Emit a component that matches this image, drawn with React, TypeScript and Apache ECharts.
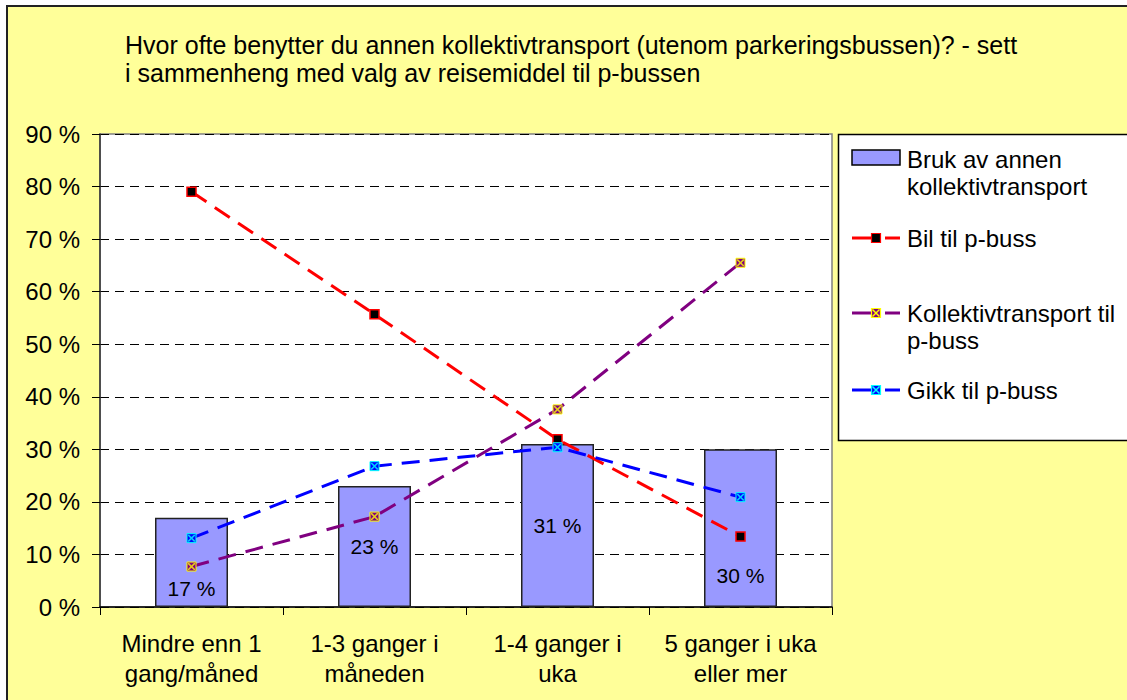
import React, { useEffect, useRef } from "react";
import * as echarts from "echarts";

const categories = [
  "Mindre enn 1\ngang/måned",
  "1-3 ganger i\nmåneden",
  "1-4 ganger i\nuka",
  "5 ganger i uka\neller mer",
];
const brukAvAnnenKollektiv = [17, 23, 31, 30];
const bilTilPbuss = [79, 55.7, 31.9, 13.4];
const kollektivTilPbuss = [7.7, 17.2, 37.6, 65.5];
const gikkTilPbuss = [13.1, 26.8, 30.4, 20.9];
const yMin = 0;
const yMax = 90;
const yStep = 10;
const seriesNames = [
  "Bruk av annen kollektivtransport",
  "Bil til p-buss",
  "Kollektivtransport til p-buss",
  "Gikk til p-buss",
];
const legendLabels = [
  "Bruk av annen\nkollektivtransport",
  "Bil til p-buss",
  "Kollektivtransport til\np-buss",
  "Gikk til p-buss",
];
const titleText =
  "Hvor ofte benytter du annen kollektivtransport (utenom parkeringsbussen)? - sett\ni sammenheng med valg av reisemiddel til p-bussen";

const FONT = "'Liberation Sans', Arial, sans-serif";
const BAR_COLOR = "#9999FF";
const RED = "#FF0000";
const PURPLE = "#800080";
const BLUE = "#0000FF";
const YELLOW = "#FFFF00";
const CYAN = "#00FFFF";
const X_PATH =
  "path://M0,0L1.6,0L5,3.4L8.4,0L10,0L10,1.6L6.6,5L10,8.4L10,10L8.4,10L5,6.6L1.6,10L0,10L0,8.4L3.4,5L0,1.6Z";
const barLabelPlacement = [
  { position: "insideBottom", distance: 8 },
  { position: "inside", distance: 0 },
  { position: "inside", distance: 0 },
  { position: "insideBottom", distance: 21 },
];
const DASH = [18, 10];
const LABEL_SIZE = 24;

function legendMarker(cx: number, cy: number, fill: string, stroke: string, cross: boolean) {
  const els: any[] = [
    {
      type: "rect",
      shape: { x: cx - 4.5, y: cy - 4.5, width: 9, height: 9 },
      style: { fill, stroke, lineWidth: 1.2 },
    },
  ];
  if (cross) {
    els.push(
      { type: "line", shape: { x1: cx - 3.5, y1: cy - 3.5, x2: cx + 3.5, y2: cy + 3.5 }, style: { stroke, lineWidth: 1.5 } },
      { type: "line", shape: { x1: cx + 3.5, y1: cy - 3.5, x2: cx - 3.5, y2: cy + 3.5 }, style: { stroke, lineWidth: 1.5 } }
    );
  }
  return els;
}

function legendLine(y: number, color: string) {
  return [
    { type: "line", shape: { x1: 852, y1: y, x2: 880, y2: y }, style: { stroke: color, lineWidth: 3 } },
    { type: "line", shape: { x1: 885, y1: y, x2: 900, y2: y }, style: { stroke: color, lineWidth: 3 } },
  ];
}

function legendText(x: number, yCenterFirst: number, text: string) {
  return {
    type: "text",
    x,
    y: yCenterFirst - 13.5,
    style: {
      text,
      fill: "#000",
      font: `${LABEL_SIZE}px ${FONT}`,
      lineHeight: 27,
      verticalAlign: "top",
      align: "left",
    },
  };
}

export default function App() {
  const ref = useRef<HTMLDivElement>(null);

  useEffect(() => {
    if (!ref.current) return;
    const chart = echarts.init(ref.current, undefined, { renderer: "svg" });

    const legendGraphics: any[] = [
      {
        type: "rect",
        shape: { x: 838.5, y: 134.5, width: 320, height: 306 },
        style: { fill: "#FFFFFF", stroke: "#000", lineWidth: 1.5 },
      },
      {
        type: "rect",
        shape: { x: 852, y: 150, width: 48, height: 15 },
        style: { fill: BAR_COLOR, stroke: "#000", lineWidth: 1.5 },
      },
      legendText(907, 159, legendLabels[0]),
      ...legendLine(238, RED),
      ...legendMarker(876, 238, "#000", RED, false),
      legendText(907, 238, legendLabels[1]),
      ...legendLine(313, PURPLE),
      ...legendMarker(876, 313, PURPLE, YELLOW, true),
      legendText(907, 313, legendLabels[2]),
      ...legendLine(390, BLUE),
      ...legendMarker(876, 390, BLUE, CYAN, true),
      legendText(907, 390, legendLabels[3]),
    ];

    const option: any = {
      animation: false,
      backgroundColor: "transparent",
      textStyle: { fontFamily: FONT },
      title: {
        text: titleText,
        left: 125,
        top: 31,
        padding: 0,
        textStyle: {
          fontFamily: FONT,
          fontSize: 25,
          fontWeight: "normal",
          color: "#000",
          lineHeight: 28,
        },
      },
      grid: {
        left: 100,
        right: 295,
        top: 134,
        bottom: 93,
        containLabel: false,
        outerBoundsMode: "none",
        show: true,
        backgroundColor: "#FFFFFF",
        borderColor: "#808080",
        borderWidth: 1.5,
      },
      xAxis: {
        type: "category",
        data: categories,
        axisLine: { show: true, lineStyle: { color: "#000", width: 1.5 } },
        axisTick: { show: true, length: 8, lineStyle: { color: "#000", width: 1 } },
        axisLabel: {
          color: "#000",
          fontSize: LABEL_SIZE,
          fontFamily: FONT,
          lineHeight: 30,
          margin: 21,
          interval: 0,
        },
      },
      yAxis: {
        type: "value",
        min: yMin,
        max: yMax,
        interval: yStep,
        axisLine: { show: true, lineStyle: { color: "#333", width: 1.5 } },
        axisTick: { show: true, length: 8, lineStyle: { color: "#000", width: 1 } },
        axisLabel: {
          color: "#000",
          fontSize: LABEL_SIZE,
          fontFamily: FONT,
          margin: 20,
          formatter: (v: number) => `${v} %`,
        },
        splitLine: { show: true, lineStyle: { color: "#000", width: 1, type: [9, 6] } },
      },
      series: [
        {
          name: seriesNames[0],
          type: "bar",
          barWidth: 73,
          data: brukAvAnnenKollektiv.map((v, i) => ({
            value: v,
            label: {
              show: true,
              position: barLabelPlacement[i].position,
              distance: barLabelPlacement[i].distance,
            },
          })),
          itemStyle: { color: BAR_COLOR, borderColor: "#222", borderWidth: 1.5 },
          label: {
            show: true,
            color: "#000",
            fontSize: 21,
            fontFamily: FONT,
            formatter: (p: any) => `${p.value} %`,
          },
          z: 2,
        },
        {
          name: seriesNames[1],
          type: "line",
          data: bilTilPbuss,
          symbol: "rect",
          symbolSize: 9,
          lineStyle: { color: RED, width: 3, type: DASH },
          itemStyle: { color: "#000", borderColor: RED, borderWidth: 1.5 },
          z: 3,
        },
        {
          name: seriesNames[2],
          type: "line",
          data: kollektivTilPbuss,
          symbol: "rect",
          symbolSize: 9,
          lineStyle: { color: PURPLE, width: 3, type: DASH },
          itemStyle: { color: PURPLE, borderColor: YELLOW, borderWidth: 1 },
          z: 3,
        },
        {
          name: seriesNames[3],
          type: "line",
          data: gikkTilPbuss,
          symbol: "rect",
          symbolSize: 9,
          lineStyle: { color: BLUE, width: 3, type: DASH },
          itemStyle: { color: BLUE, borderColor: CYAN, borderWidth: 1 },
          z: 3,
        },
        {
          name: seriesNames[2] + " markør",
          type: "scatter",
          data: kollektivTilPbuss,
          symbol: X_PATH,
          symbolSize: 7,
          itemStyle: { color: YELLOW },
          silent: true,
          z: 4,
        },
        {
          name: seriesNames[3] + " markør",
          type: "scatter",
          data: gikkTilPbuss,
          symbol: X_PATH,
          symbolSize: 7,
          itemStyle: { color: CYAN },
          silent: true,
          z: 4,
        },
      ],
      graphic: legendGraphics,
    };

    chart.setOption(option);
    return () => {
      chart.dispose();
    };
  }, []);

  return (
    <div
      style={{
        position: "fixed",
        left: 0,
        top: 0,
        width: 1127,
        height: 700,
        overflow: "hidden",
        background: "#FFFFFF",
      }}
    >
      <div
        style={{
          position: "absolute",
          left: 6,
          top: 5,
          width: 1300,
          height: 900,
          background: "#FFFF99",
          border: "2px solid #222",
          boxSizing: "border-box",
        }}
      />
      <div ref={ref} style={{ position: "absolute", left: 0, top: 0, width: 1127, height: 700 }} />
    </div>
  );
}
